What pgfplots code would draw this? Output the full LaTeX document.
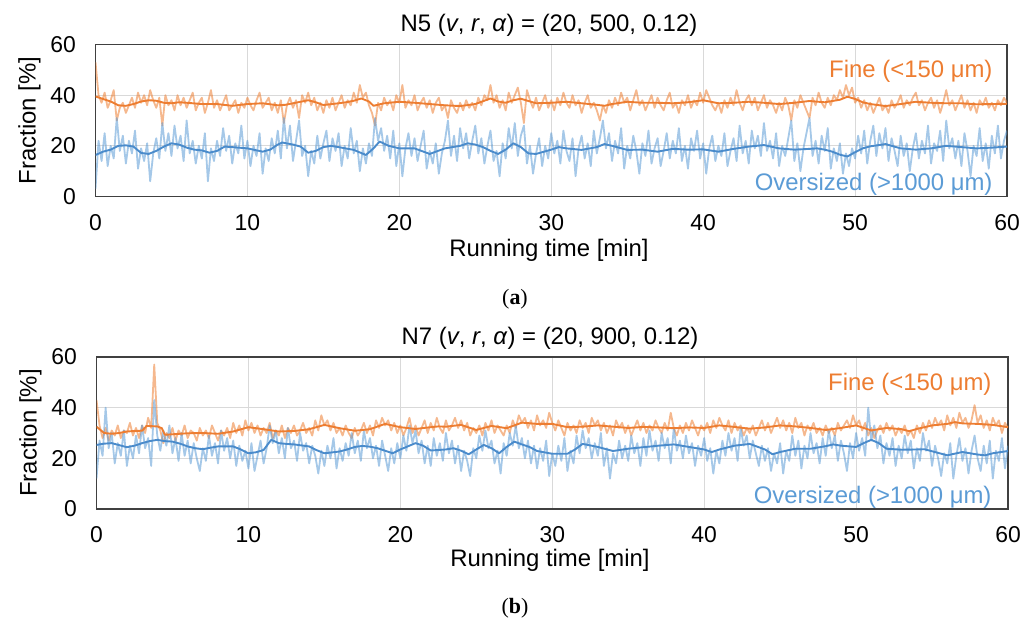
\documentclass[border=0pt]{standalone}
\usepackage{fontspec}
\setmainfont{Liberation Sans}
\newfontfamily\capfont{Liberation Serif}
\usepackage{pgfplots}
\usepackage{pgfplotstable}
\pgfplotsset{compat=1.18}

\definecolor{fineC}{HTML}{ED7D31}
\definecolor{overC}{HTML}{5B9BD5}
\definecolor{overD}{HTML}{4A8BCB}
\definecolor{gridC}{HTML}{D9D9D9}
\definecolor{frameC}{HTML}{404040}

% Raw fractions every 0.2 min: fa/oa = N5, fb/ob = N7 (fine / oversized, %)
\pgfplotstableread{
t fa oa fb ob
0 53 3 43 12
0.2 40 22 33 27
0.4 37 14 28 21
0.6 41 25 32 40
0.8 35 12 27 24
1.0 38 20 31 30
1.2 42 15 29 18
1.4 30 31 33 26
1.6 35 18 28 21
1.8 37 24 31 31
2.0 33 13 30 17
2.2 36 22 34 25
2.4 39 17 29 20
2.6 35 26 32 29
2.8 41 11 28 22
3.0 37 19 33 33
3.2 40 14 30 24
3.4 36 21 36 28
3.6 42 6 32 17
3.8 38 17 57 43
4.0 35 23 34 29
4.2 39 15 31 23
4.4 28 29 26 31
4.6 40 18 30 25
4.8 36 25 28 33
5.0 38 16 32 22
5.2 34 28 27 28
5.4 40 19 31 19
5.6 36 24 29 30
5.8 39 14 33 21
6.0 35 30 28 27
6.2 38 17 31 18
6.4 41 22 30 26
6.6 34 13 27 20
6.8 37 20 32 15
7.0 39 15 29 24
7.2 33 25 31 19
7.4 37 6 28 29
7.6 42 19 33 21
7.8 35 14 30 26
8.0 38 22 27 18
8.2 34 16 31 31
8.4 37 27 29 23
8.6 40 18 32 28
8.8 34 24 28 20
9.0 36 13 34 27
9.2 38 21 30 17
9.4 33 17 33 25
9.6 37 28 29 19
9.8 35 15 35 23
10.0 39 22 31 16
10.2 36 12 34 26
10.4 34 20 30 15
10.6 38 16 33 21
10.8 41 25 29 27
11.0 35 9 32 18
11.2 37 19 30 24
11.4 39 14 34 33
11.6 34 23 28 26
11.8 37 17 31 31
12.0 33 26 29 22
12.2 38 15 33 28
12.4 29 31 28 20
12.6 36 19 32 32
12.8 39 28 30 24
13.0 35 14 33 27
13.2 38 22 29 19
13.4 31 30 31 30
13.6 40 16 34 23
13.8 37 20 30 26
14.0 41 8 32 18
14.2 36 18 29 25
14.4 39 13 35 21
14.6 34 24 31 14
14.8 37 15 37 23
15.0 33 21 33 17
15.2 38 26 35 25
15.4 35 14 31 20
15.6 39 23 34 28
15.8 34 18 30 16
16.0 37 25 32 24
16.2 40 12 29 19
16.4 35 20 33 26
16.6 38 15 30 21
16.8 36 27 28 30
17.0 41 17 32 22
17.2 37 22 29 27
17.4 44 10 31 19
17.6 39 19 34 31
17.8 41 13 30 24
18.0 36 21 33 28
18.2 33 16 29 20
18.4 28 31 35 25
18.6 37 22 32 17
18.8 34 27 36 27
19.0 39 18 33 21
19.2 36 24 35 15
19.4 38 15 31 24
19.6 34 26 34 18
19.8 40 12 30 26
20.0 37 21 33 20
20.2 44 8 29 29
20.4 35 19 32 23
20.6 38 25 36 33
20.8 36 16 30 26
21.0 40 23 33 31
21.2 34 14 29 22
21.4 37 20 32 27
21.6 39 26 35 18
21.8 35 11 30 25
22.0 38 18 34 17
22.2 33 13 31 28
22.4 37 21 36 21
22.6 39 9 32 26
22.8 34 17 30 19
23.0 36 22 35 30
23.2 31 30 31 22
23.4 38 16 33 27
23.6 35 24 36 18
23.8 33 14 32 25
24.0 37 27 35 15
24.2 34 19 31 23
24.4 38 25 34 19
24.6 35 15 29 13
24.8 37 22 32 24
25.0 34 28 30 20
25.2 39 17 33 29
25.4 36 23 29 23
25.6 40 13 34 31
25.8 38 20 31 24
26.0 44 26 35 27
26.2 37 14 30 18
26.4 40 18 33 23
26.6 35 8 31 14
26.8 38 21 29 26
27.0 34 15 33 21
27.2 41 27 30 30
27.4 37 19 35 25
27.6 40 29 32 33
27.8 43 16 37 24
28.0 37 24 34 28
28.2 29 28 36 20
28.4 42 13 32 27
28.6 38 20 35 18
28.8 35 9 31 25
29.0 39 17 37 16
29.2 34 23 33 24
29.4 37 12 35 19
29.6 40 20 32 27
29.8 35 15 38 13
30.0 38 25 34 22
30.2 34 17 31 17
30.4 39 22 35 25
30.6 36 13 32 19
30.8 41 26 29 28
31.0 37 18 34 15
31.2 35 14 31 23
31.4 40 23 33 18
31.6 36 8 30 29
31.8 38 19 35 22
32.0 33 24 32 31
32.2 37 15 34 24
32.4 40 21 30 28
32.6 35 12 36 20
32.8 37 26 33 26
33.0 34 17 35 21
33.2 30 23 31 30
33.4 36 30 34 17
33.6 33 19 30 24
33.8 38 25 33 12
34.0 35 14 29 22
34.2 39 22 35 18
34.4 36 17 32 27
34.6 41 27 34 20
34.8 37 11 30 25
35.0 39 20 33 19
35.2 34 15 29 29
35.4 38 24 32 22
35.6 42 18 35 26
35.8 36 9 31 17
36.0 38 21 34 28
36.2 34 16 30 21
36.4 37 26 33 31
36.6 40 13 31 23
36.8 35 19 35 27
37.0 39 23 32 19
37.2 36 12 30 30
37.4 34 18 34 24
37.6 38 25 31 28
37.8 41 15 38 18
38.0 35 22 32 32
38.2 37 17 29 23
38.4 33 27 33 27
38.6 38 14 30 20
38.8 36 20 34 29
39.0 40 11 31 22
39.2 35 23 35 26
39.4 38 18 32 17
39.6 36 26 29 25
39.8 41 15 33 21
40.0 37 21 31 28
40.2 42 9 34 19
40.4 39 19 30 24
40.6 36 24 35 14
40.8 34 14 32 23
41.0 37 20 36 18
41.2 33 16 33 27
41.4 38 25 31 21
41.6 35 12 35 30
41.8 39 18 30 23
42.0 36 23 34 28
42.2 42 14 31 19
42.4 37 28 33 32
42.6 34 17 29 25
42.8 38 22 32 29
43.0 40 13 30 20
43.2 36 26 33 27
43.4 39 19 29 22
43.6 34 24 32 17
43.8 37 16 35 25
44.0 40 29 31 19
44.2 35 18 34 24
44.4 38 22 30 15
44.6 36 15 33 22
44.8 33 25 36 18
45.0 37 12 32 26
45.2 34 20 35 14
45.4 39 16 31 23
45.6 36 23 34 19
45.8 30 30 30 29
46.0 38 14 36 21
46.2 35 21 32 27
46.4 40 10 34 16
46.6 37 19 29 25
46.8 34 25 33 20
47.0 31 31 31 30
47.2 39 16 34 22
47.4 36 22 30 26
47.6 41 13 32 18
47.8 37 24 29 28
48.0 35 18 33 21
48.2 39 27 30 31
48.4 36 11 32 24
48.6 40 19 29 29
48.8 38 14 34 19
49.0 42 21 31 27
49.2 39 9 33 22
49.4 44 17 35 15
49.6 40 12 32 26
49.8 43 19 37 20
50.0 37 15 33 30
50.2 39 24 35 23
50.4 35 17 31 28
50.6 38 26 34 21
50.8 34 13 29 40
51.0 37 22 32 27
51.2 33 28 28 33
51.4 36 16 31 24
51.6 39 25 33 29
51.8 34 19 30 18
52.0 36 27 34 26
52.2 33 14 31 21
52.4 38 23 33 28
52.6 35 18 29 17
52.8 37 12 32 25
53.0 40 24 30 20
53.2 35 16 33 29
53.4 38 21 29 22
53.6 36 10 31 27
53.8 39 19 28 16
54.0 41 25 33 24
54.2 36 15 30 19
54.4 38 22 34 30
54.6 34 17 31 23
54.8 37 28 35 27
55.0 39 13 32 17
55.2 35 21 36 25
55.4 38 18 33 20
55.6 33 26 35 13
55.8 37 14 31 22
56.0 42 30 37 18
56.2 36 19 33 26
56.4 38 23 36 12
56.6 34 15 32 21
56.8 37 22 38 28
57.0 40 12 34 19
57.2 35 25 36 24
57.4 38 18 32 14
57.6 34 8 35 23
57.8 37 20 41 29
58.0 33 16 34 20
58.2 38 27 37 15
58.4 36 14 32 25
58.6 39 21 35 18
58.8 35 11 31 27
59.0 37 24 36 12
59.2 34 17 33 23
59.4 38 28 35 19
59.6 36 15 30 28
59.8 39 22 34 16
60.0 37 26 32 25
}\rawdata

\pgfplotsset{
  panel/.style={
    scale only axis, width=911.5bp, height=152bp,
    xmin=0, xmax=60, ymin=0, ymax=60,
    xtick={0,10,...,60}, ytick={0,20,40,60},
    major tick length=0pt,
    grid=major, major grid style={gridC, line width=1.1bp},
    axis line style={frameC, line width=1.4bp},
    tick label style={font=\fontsize{23}{27}\selectfont, inner sep=0pt},
    /pgf/number format/assume math mode=true,
    xticklabel style={anchor=base, yshift=-33.5bp},
    yticklabel style={anchor=east, xshift=-19.5bp},
  },
  raw/.style={line width=1.8bp, opacity=0.55, line join=round},
  smooth/.style={line width=1.9bp, line join=round},
}

\newcommand{\lab}{\fontsize{24}{29}\selectfont}

\begin{document}
\begin{tikzpicture}
\path (0,0) rectangle (1035bp,-624bp);

% ---------- N5 ----------
\begin{axis}[panel, at={(95.5bp,-196.5bp)}, anchor=south west]
\addplot[raw, draw=fineC] table[x=t, y=fa] {\rawdata};
\addplot[raw, draw=overC] table[x=t, y=oa] {\rawdata};
\addplot[smooth, draw=fineC] coordinates {
(0,39.5) (0.5,38.5) (1,37.5) (1.5,36.0) (2,35.8) (2.5,36.5) (3,37.5) (3.5,38.0)
(4,37.8) (4.5,37.0) (5,36.8) (5.5,37.2) (6,37.0) (7,36.5) (8,36.5) (9,35.8)
(10,36.5) (11,36.8) (12,36.0) (12.5,36.2) (13,36.8) (14,38.0) (14.5,37.2) (15,36.1)
(16,36.8) (16.5,37.2) (17,37.8) (17.5,38.7) (18,37.5) (18.3,35.8) (19,36.8) (20,37.4)
(21,37.0) (22,36.5) (23,36.0) (24,35.7) (25,36.5) (26,38.7) (26.5,37.5) (27,37.0)
(27.5,38.0) (28,38.6) (29,36.8) (30,37.0) (31,37.4) (32,36.8) (33,36.2) (33.5,35.8)
(34,36.5) (35,37.4) (36,37.0) (37,37.0) (38,36.8) (39,37.2) (40,38.0) (41,36.8)
(42,37.0) (43,37.4) (44,37.0) (45,36.5) (46,37.0) (47,37.7) (48,37.2) (49,38.2)
(49.5,39.4) (50,38.5) (50.5,37.2) (51,36.5) (52,35.7) (53,36.5) (54,37.4) (55,37.0)
(56,36.8) (57,36.8) (58,36.4) (59,36.5) (60,36.6)};
\addplot[smooth, draw=overD] coordinates {
(0,16.4) (0.5,17.7) (1,18.5) (1.5,20.0) (2,20.2) (2.5,19.7) (3,17.2) (3.5,16.8)
(4,18.0) (4.5,19.7) (5,21.0) (5.5,20.5) (6,19.3) (6.5,18.5) (7,18.2) (7.5,17.3)
(8,18.0) (8.5,19.7) (9,19.5) (10,19.0) (11,17.7) (11.5,18.5) (12,20.5) (12.3,21.3)
(13,20.5) (13.5,19.7) (14,17.3) (14.5,18.0) (15,19.5) (15.5,20.0) (16,19.5) (17,18.4)
(17.8,16.4) (18.3,19.0) (18.7,21.7) (19.3,20.0) (20,19.0) (21,19.0) (22,16.8) (23,19.0)
(24,20.0) (24.5,21.0) (25,20.5) (25.5,19.5) (26,18.0) (26.5,16.8) (27,18.5) (27.5,21.0)
(28,19.5) (28.5,17.0) (29,16.8) (30,18.5) (30.5,19.5) (31,19.0) (32,18.4) (33,19.5)
(33.5,20.7) (34,20.0) (35,18.4) (36,18.5) (37,17.7) (38,18.8) (39,18.5) (40,18.6)
(41,17.7) (42,18.8) (43,19.7) (44,20.3) (45,19.0) (46,18.5) (47,18.8) (47.5,19.0)
(48,18.5) (48.5,17.7) (49,16.5) (49.5,15.8) (50,17.5) (50.5,19.0) (51,19.8) (52,20.7)
(53,19.0) (54,18.5) (55,19.0) (56,20.0) (57,19.5) (58,19.0) (59,19.3) (60,19.7)};
\end{axis}

% ---------- N7 ----------
\begin{axis}[panel, at={(96.5bp,-509bp)}, anchor=south west]
\addplot[raw, draw=fineC] table[x=t, y=fb] {\rawdata};
\addplot[raw, draw=overC] table[x=t, y=ob] {\rawdata};
\addplot[smooth, draw=fineC] coordinates {
(0,32.5) (0.5,30.0) (1,29.7) (1.5,30.0) (2,30.6) (2.5,30.8) (3,30.9) (3.3,32.8)
(4,32.6) (4.3,31.9) (4.5,29.3) (5,29.5) (6,29.9) (7,30.0) (8,29.7) (9,30.6)
(10,32.3) (11,31.5) (12,30.6) (13,30.8) (14,31.5) (15,33.2) (16,31.9) (17,30.9)
(18,31.5) (19,33.6) (20,32.3) (21,31.6) (22,32.3) (22.5,32.6) (23,32.5) (24,33.2)
(25,31.2) (26,32.8) (27,31.9) (28,34.1) (29,33.6) (30,33.6) (31,32.3) (32,32.5)
(33,33.0) (34,32.5) (35,32.0) (36,32.4) (37,32.2) (38,31.9) (39,32.2) (40,32.0)
(41,33.0) (42,32.4) (43,31.7) (44,32.2) (45,33.0) (46,32.6) (47,32.0) (48,31.2)
(49,32.0) (50,33.0) (51,31.0) (52,32.0) (53,31.5) (53.5,30.7) (54,31.6) (55,33.0)
(56,33.6) (56.5,34.3) (57,33.8) (58,33.6) (59,33.2) (60,32.3)};
\addplot[smooth, draw=overD] coordinates {
(0,25.3) (0.5,25.8) (1,26.0) (1.5,25.2) (2,24.4) (2.5,25.0) (3,26.0) (3.5,26.8)
(4,27.3) (4.5,26.8) (5,26.6) (5.5,25.8) (6,24.7) (6.5,24.0) (7,23.6) (7.5,24.2)
(8,24.7) (9,24.7) (9.5,23.5) (10,22.0) (10.5,22.4) (11,23.3) (11.5,27.3) (12,26.0)
(12.5,25.7) (13,25.5) (14,24.7) (14.5,23.2) (15,22.0) (16,22.7) (16.5,23.5) (17,24.5)
(17.5,24.9) (18,24.6) (18.5,24.0) (19,23.0) (19.5,22.0) (20,23.5) (21,26.0) (21.5,25.0)
(22,23.1) (23,23.5) (23.5,24.0) (24,23.0) (24.5,21.6) (25,23.5) (25.5,25.3) (26,24.0)
(26.5,22.0) (27,24.5) (27.5,26.6) (28,25.5) (28.5,24.5) (29,22.9) (30,21.8) (31,21.8)
(31.5,23.5) (32,25.7) (33,24.5) (34,22.9) (35,23.8) (36,24.4) (37,25.0) (38,25.5)
(39,24.5) (40,23.5) (40.5,22.5) (41,23.5) (42,25.0) (43,25.7) (44,23.5) (44.5,21.6)
(45,22.5) (46,23.8) (47,23.8) (48,24.8) (48.5,25.5) (49,25.0) (50,24.5) (50.5,26.0)
(51,27.3) (51.5,26.0) (52,23.8) (53,23.4) (54,23.5) (54.5,23.6) (55,22.8) (56,21.2)
(57,22.5) (58,21.5) (58.5,21.2) (59,22.0) (60,22.9)};
\end{axis}

% titles, axis labels and series labels
\node[anchor=base, font=\lab] at (549bp,-31.5bp) {N5 (\textit{v}, \textit{r}, \textit{α}) = (20, 500, 0.12)};
\node[anchor=base, font=\lab] at (550bp,-344bp) {N7 (\textit{v}, \textit{r}, \textit{α}) = (20, 900, 0.12)};
\node[anchor=base, rotate=90, font=\lab] at (35.5bp,-120.5bp) {Fraction [\%]};
\node[anchor=base, rotate=90, font=\lab] at (36.5bp,-433bp) {Fraction [\%]};
\node[anchor=base, font=\lab] at (549bp,-256bp) {Running time [min]};
\node[anchor=base, font=\lab] at (550bp,-566bp) {Running time [min]};
\node[anchor=base east, font=\lab, text=fineC] at (996bp,-77bp) {Fine (<150 μm)};
\node[anchor=base east, font=\lab, text=overC] at (996bp,-190.5bp) {Oversized (>1000 μm)};
\node[anchor=base east, font=\lab, text=fineC] at (995bp,-390bp) {Fine (<150 μm)};
\node[anchor=base east, font=\lab, text=overC] at (995bp,-503bp) {Oversized (>1000 μm)};
\node[anchor=base, font=\capfont\fontsize{22}{26}\selectfont] at (515bp,-304bp) {(\textbf{a})};
\node[anchor=base, font=\capfont\fontsize{22}{26}\selectfont] at (515bp,-613bp) {(\textbf{b})};
\end{tikzpicture}
\end{document}
